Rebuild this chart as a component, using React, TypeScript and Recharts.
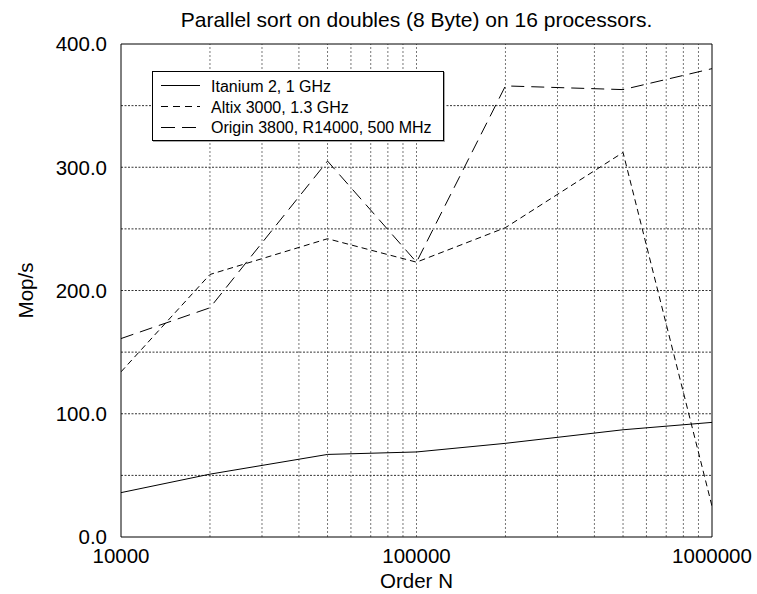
import { LineChart, Line, XAxis, YAxis, ReferenceLine, Label } from 'recharts';

const ORDER_N = [10000, 20000, 50000, 100000, 200000, 500000, 1000000];
const ITANIUM = [36, 51, 67, 69, 76, 87, 93];
const ALTIX = [134, 213, 242, 223, 251, 312, 25];
const ORIGIN = [161, 186, 305, 223, 366, 363, 380];

const X_TICKS = [10000, 100000, 1000000];
const X_GRID = [
  20000, 30000, 40000, 50000, 60000, 70000, 80000, 90000, 100000,
  200000, 300000, 400000, 500000, 600000, 700000, 800000, 900000,
];
const Y_TICKS = [0, 100, 200, 300, 400];
const Y_GRID = [50, 100, 150, 200, 250, 300, 350];

const SERIES = [
  { key: 'itanium', name: 'Itanium 2, 1 GHz', dash: undefined, legendDash: undefined },
  { key: 'altix', name: 'Altix 3000, 1.3 GHz', dash: '6 4', legendDash: '7 5' },
  { key: 'origin', name: 'Origin 3800, R14000, 500 MHz', dash: '13 7', legendDash: '14 7' },
];

const data = ORDER_N.map((n, i) => ({
  n,
  itanium: ITANIUM[i],
  altix: ALTIX[i],
  origin: ORIGIN[i],
}));

const FONT = '"Liberation Sans", Arial, Helvetica, sans-serif';

function ChartLegend() {
  return (
    <div
      style={{
        position: 'absolute',
        left: 152,
        top: 71,
        width: 292,
        height: 70,
        boxSizing: 'border-box',
        border: '1px solid #000',
        background: '#fff',
        boxShadow: '1px 1px 0 #aaa',
      }}
    >
      <svg width={290} height={68} style={{ display: 'block' }}>
        {SERIES.map((s, i) => (
          <g key={s.key}>
            <line
              x1={8}
              x2={47}
              y1={13.5 + i * 21}
              y2={13.5 + i * 21}
              stroke="#000"
              strokeWidth={1}
              strokeDasharray={s.legendDash}
            />
            <text x={58} y={20 + i * 20.5} fontSize={16} fontFamily={FONT} fill="#000">
              {s.name}
            </text>
          </g>
        ))}
      </svg>
    </div>
  );
}

export default function App() {
  return (
    <div style={{ position: 'absolute', left: 0, top: 0, width: 757, height: 594, background: '#fff', fontFamily: FONT }}>
      <div
        style={{
          position: 'absolute',
          left: 121,
          width: 591,
          top: 9,
          textAlign: 'center',
          fontSize: 21,
          lineHeight: '21px',
          color: '#000',
        }}
      >
        Parallel sort on doubles (8 Byte) on 16 processors.
      </div>
      <LineChart width={757} height={594} data={data} margin={{ top: 44, right: 45, bottom: 0, left: 0 }}>
        <XAxis
          dataKey="n"
          type="number"
          scale="log"
          domain={[10000, 1000000]}
          ticks={X_TICKS}
          allowDataOverflow
          height={57}
          tickLine={false}
          tickSize={8}
          tickMargin={3}
          axisLine={{ stroke: '#000' }}
          tick={{ fill: '#000', fontSize: 20.5, fontFamily: FONT }}
          interval={0}
        >
          <Label
            content={({ viewBox }: any) => (
              <text
                x={viewBox.x + viewBox.width / 2}
                y={viewBox.y + 51}
                textAnchor="middle"
                fontSize={20.5}
                fontFamily={FONT}
                fill="#000"
              >
                Order N
              </text>
            )}
          />
        </XAxis>
        <YAxis
          type="number"
          domain={[0, 400]}
          ticks={Y_TICKS}
          width={121}
          tickLine={false}
          tickSize={8}
          tickMargin={6}
          axisLine={{ stroke: '#000' }}
          tickFormatter={(v: number) => v.toFixed(1)}
          tick={{ fill: '#000', fontSize: 20.5, fontFamily: FONT }}
          interval={0}
        >
          <Label
            content={({ viewBox }: any) => {
              const cx = viewBox.x + 33;
              const cy = viewBox.y + viewBox.height / 2;
              return (
                <text
                  x={cx}
                  y={cy}
                  transform={`rotate(-90, ${cx}, ${cy})`}
                  textAnchor="middle"
                  fontSize={20.5}
                  fontFamily={FONT}
                  fill="#000"
                >
                  Mop/s
                </text>
              );
            }}
          />
        </YAxis>

        {/* dotted grid, gnuplot style */}
        {X_GRID.map((x) => (
          <ReferenceLine key={`gx${x}`} x={x} stroke="#777" strokeDasharray="2 2" />
        ))}
        {Y_GRID.map((y) => (
          <ReferenceLine key={`gy${y}`} y={y} stroke="#333" strokeDasharray="2 1.5" />
        ))}
        {/* top and right border */}
        <ReferenceLine y={400} stroke="#000" />
        <ReferenceLine x={1000000} stroke="#000" />

        {SERIES.map((s) => (
          <Line
            key={s.key}
            dataKey={s.key}
            name={s.name}
            type="linear"
            stroke="#000"
            strokeWidth={1}
            strokeDasharray={s.dash}
            dot={false}
            activeDot={false}
            isAnimationActive={false}
          />
        ))}
      </LineChart>
      <ChartLegend />
    </div>
  );
}
